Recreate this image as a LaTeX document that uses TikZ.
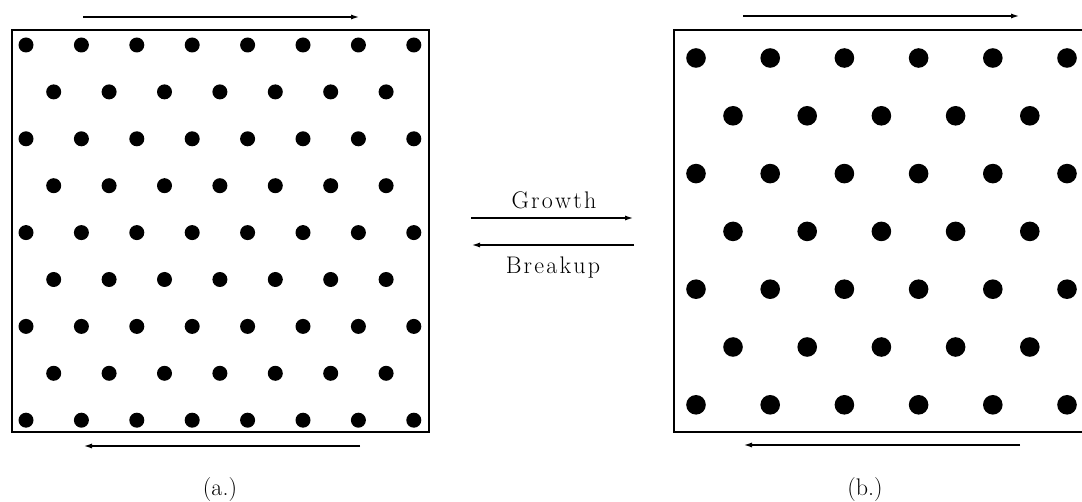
\documentclass[tikz,border=0pt]{standalone}
\usepackage{fontspec}
\usetikzlibrary{arrows.meta}
\newcommand\lsp{\kern2.2pt}
\begin{document}
\begin{tikzpicture}[x=1pt,y=-1pt,line width=1.7pt,
  shiftarrow/.style={-{Latex[length=9pt,width=5pt]},line width=1.8pt},
  lbl/.style={font=\fontsize{24}{28}\selectfont},
  caplbl/.style={font=\fontsize{24}{28}\selectfont}]
\useasboundingbox (0,0) rectangle (1082,502);
% left box (a.)
\draw (12,30) rectangle (429,432);
\foreach \r in {0,...,8}{
  \pgfmathsetmacro\yy{45+46.9*\r}
  \ifodd\r
    \foreach \i in {0,...,6}{\fill (53.7+55.4*\i,\yy) circle (7.5pt);}
  \else
    \foreach \i in {0,...,7}{\fill (26+55.4*\i,\yy) circle (7.5pt);}
  \fi
}
% right box (b.), cut at the page edge
\draw (1082,30) -- (674,30) -- (674,432) -- (1082,432);
\foreach \r in {0,...,6}{
  \pgfmathsetmacro\yy{58+57.8*\r}
  \ifodd\r
    \foreach \i in {0,...,4}{\fill (733+74.2*\i,\yy) circle (9.8pt);}
  \else
    \foreach \i in {0,...,5}{\fill (696+74.2*\i,\yy) circle (9.8pt);}
  \fi
}
% shear arrows
\coordinate (atl) at (83,17);  \coordinate (atr) at (360,17);
\coordinate (abl) at (83,446); \coordinate (abr) at (360,446);
\coordinate (btl) at (743,16); \coordinate (btr) at (1020,16);
\coordinate (bbl) at (743,445); \coordinate (bbr) at (1020,445);
\draw[shiftarrow] (atl) -- (atr);
\draw[shiftarrow] (abr) -- (abl);
\draw[shiftarrow] (btl) -- (btr);
\draw[shiftarrow] (bbr) -- (bbl);
% middle arrows
\coordinate (gl) at (471,218); \coordinate (gr) at (634,218);
\coordinate (kl) at (471,245); \coordinate (kr) at (634,245);
\draw[shiftarrow] (gl) -- (gr);
\draw[shiftarrow] (kr) -- (kl);
\node[lbl,anchor=base] (growth) at (554,209) {G\lsp r\lsp o\lsp w\lsp t\lsp h};
\node[lbl,anchor=base] (breakup) at (553,274) {B\lsp r\lsp e\lsp a\lsp k\lsp u\lsp p};
% captions
\node[caplbl] (capa) at (220,490) {(a.)};
\node[caplbl] (capb) at (865,490) {(b.)};
\end{tikzpicture}
\end{document}
